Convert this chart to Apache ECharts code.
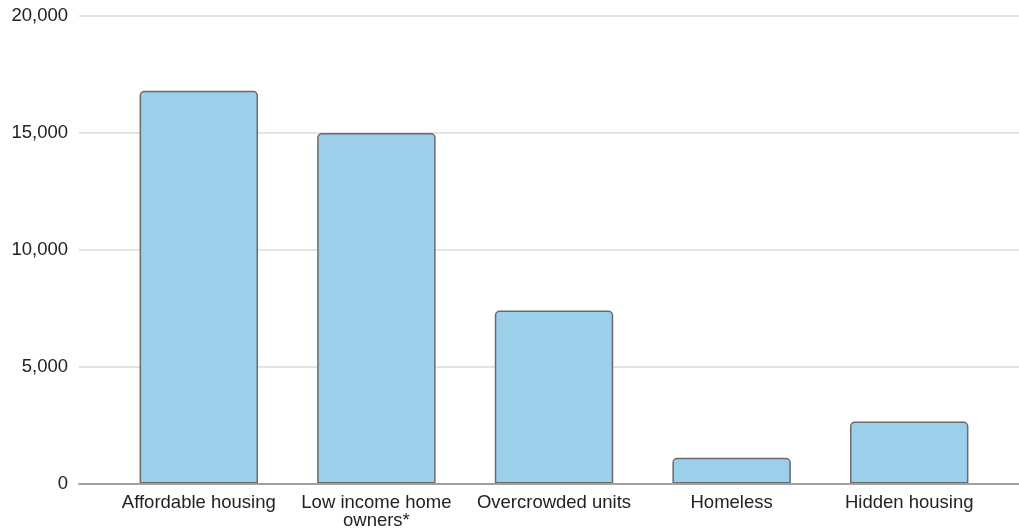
<!DOCTYPE html>
<html>
<head>
<meta charset="utf-8">
<script src="https://cdn.jsdelivr.net/npm/echarts@6/dist/echarts.min.js"></script>
<style>
  html, body { margin: 0; padding: 0; background: #fff; }
  #chart { width: 1019px; height: 530px; }
</style>
</head>
<body>
<div id="chart"></div>
<script>
// Housing need by category
const categories = [
  'Affordable housing',
  'Low income home\nowners*',
  'Overcrowded units',
  'Homeless',
  'Hidden housing'
];
const households = [16800, 15000, 7400, 1100, 2650];
const yTicks = [0, 5000, 10000, 15000, 20000];
const yTickLabels = ['0', '5,000', '10,000', '15,000', '20,000'];

const FONT = '"Liberation Sans", Arial, Helvetica, sans-serif';
const TOP = 16, BOTTOM = 46;

const chart = echarts.init(document.getElementById('chart'), null, { renderer: 'canvas' });

chart.setOption({
  backgroundColor: '#ffffff',
  animation: false,
  textStyle: { fontFamily: FONT },
  grid: [
    // full-width frame for the value scale, gridlines and baseline
    { left: 79, right: 0, top: TOP, bottom: BOTTOM },
    // inner frame holding the bars
    { left: 110, right: 21, top: TOP, bottom: BOTTOM }
  ],
  xAxis: [
    {
      gridIndex: 0, type: 'value', min: 0, max: 1, z: 5,
      axisLine: { show: true, lineStyle: { color: '#a0a0a0', width: 2 } },
      axisTick: { show: false }, axisLabel: { show: false }, splitLine: { show: false }
    },
    {
      gridIndex: 1, type: 'category', data: categories,
      axisLine: { show: false }, axisTick: { show: false },
      axisLabel: {
        color: '#222222', fontSize: 18.5, fontFamily: FONT,
        lineHeight: 18, margin: 10, interval: 0
      }
    }
  ],
  yAxis: [
    {
      gridIndex: 0, type: 'value', min: yTicks[0], max: yTicks[yTicks.length - 1],
      interval: yTicks[1] - yTicks[0],
      axisLine: { show: false }, axisTick: { show: false },
      axisLabel: {
        color: '#222222', fontSize: 18.5, fontFamily: FONT, margin: 11,
        formatter: v => yTickLabels[yTicks.indexOf(v)]
      },
      splitLine: { show: true, lineStyle: { color: '#e4e4e4', width: 2 } }
    },
    {
      gridIndex: 1, type: 'value', min: yTicks[0], max: yTicks[yTicks.length - 1],
      show: false, splitLine: { show: false }
    }
  ],
  series: [
    {
      type: 'bar',
      xAxisIndex: 1, yAxisIndex: 1,
      data: households,
      barWidth: '66.7%',
      itemStyle: {
        color: '#9bcfec',
        borderColor: '#6a6a6a',
        borderWidth: 1.5,
        borderRadius: [4, 4, 0, 0]
      }
    }
  ]
});
</script>
</body>
</html>
